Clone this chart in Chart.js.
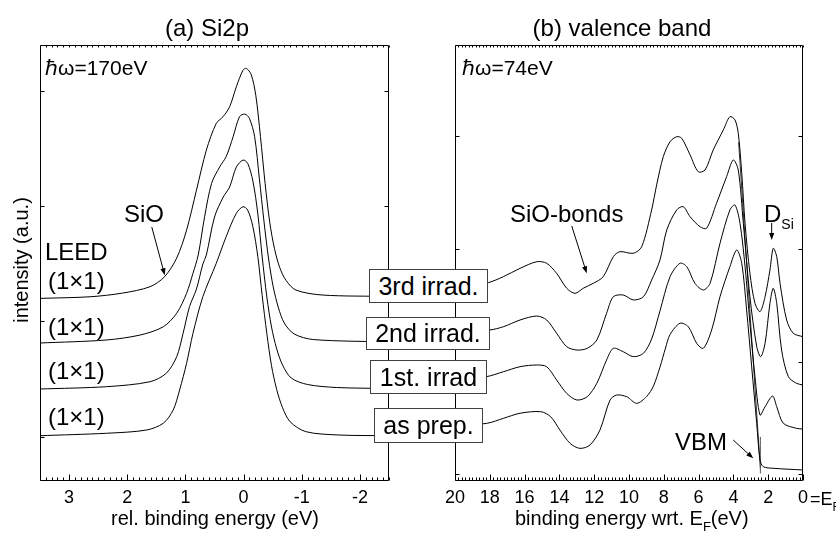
<!DOCTYPE html>
<html><head><meta charset="utf-8">
<script src="https://cdn.jsdelivr.net/npm/chart.js@4.4.0/dist/chart.umd.min.js"></script>
<style>
html,body{margin:0;padding:0;background:#fff;}
#wrap{position:relative;width:836px;height:535px;overflow:hidden;font-family:"Liberation Sans",Arial,sans-serif;background:#fff;}
#cA{position:absolute;left:0;top:0;width:420px;height:535px;}
#cB{position:absolute;left:420px;top:0;width:416px;height:535px;}
.box{position:absolute;background:#fff;border:1px solid #404040;box-sizing:border-box;font-size:25px;line-height:1;display:flex;align-items:center;justify-content:center;color:#000;white-space:nowrap;}
</style></head><body>
<div id="wrap">
<canvas id="cA" width="420" height="535"></canvas>
<canvas id="cB" width="416" height="535"></canvas>
<div class="box" style="left:369px;top:269px;width:119px;height:34px">3rd irrad.</div>
<div class="box" style="left:366px;top:317px;width:124px;height:33px">2nd irrad.</div>
<div class="box" style="left:370px;top:360px;width:117px;height:34px">1st. irrad</div>
<div class="box" style="left:374px;top:408px;width:109px;height:35px">as prep.</div>
</div>
<script>
// ---------- (a) Si2p core level: binding energy (eV, relative) and intensity ----------
const si3rdE = [3.5,2.64,2.08,1.61,1.36,1.15,0.98,0.81,0.64,0.47,0.355,0.24,0.125,0.01,-0.046,-0.13,-0.21,-0.29,-0.37,-0.45,-0.53,-0.62,-0.73,-0.9,-1.36,-2.5];
const si3rdI = [1.199,1.213,1.245,1.300,1.386,1.549,1.791,2.138,2.485,2.717,2.774,2.861,3.034,3.179,3.194,3.142,2.960,2.604,2.196,1.858,1.633,1.468,1.355,1.271,1.228,1.216];
const si2ndE = [3.5,2.36,1.78,1.38,1.15,0.98,0.87,0.78,0.67,0.55,0.41,0.30,0.18,0.07,-0.02,-0.10,-0.19,-0.27,-0.35,-0.43,-0.51,-0.6,-0.7,-0.87,-1.2,-2.5];
const si2ndI = [0.812,0.838,0.881,0.953,1.070,1.243,1.417,1.575,1.907,2.197,2.341,2.428,2.601,2.775,2.798,2.761,2.601,2.243,1.870,1.541,1.298,1.116,0.985,0.890,0.842,0.821];
const si1stE = [3.5,2.36,1.61,1.33,1.15,1.04,0.93,0.81,0.70,0.64,0.5,0.35,0.24,0.125,0.01,-0.07,-0.16,-0.245,-0.32,-0.40,-0.48,-0.57,-0.67,-0.82,-1.1,-1.6,-2.5];
const si1stI = [0.413,0.433,0.476,0.549,0.693,0.896,1.127,1.280,1.497,1.575,1.905,2.078,2.165,2.338,2.399,2.371,2.217,1.931,1.558,1.211,0.951,0.760,0.621,0.508,0.452,0.426,0.417];
const siPrepE = [3.5,2.36,1.67,1.38,1.21,1.10,0.98,0.87,0.70,0.47,0.30,0.125,0.01,-0.07,-0.16,-0.245,-0.32,-0.40,-0.48,-0.57,-0.67,-0.80,-1.07,-1.64,-2.5];
const siPrepI = [0.008,0.029,0.057,0.116,0.231,0.404,0.636,0.896,1.214,1.503,1.734,1.937,1.994,1.966,1.821,1.560,1.222,0.893,0.615,0.407,0.251,0.129,0.043,0.014,0.008];

// ---------- (b) valence band: binding energy wrt. E_F (eV) and intensity ----------
const vb3rdE = [20,18.09,17.22,16.26,15.30,14.73,14.16,13.58,13.10,12.63,12.05,11.48,10.90,10.52,9.75,9.27,8.70,8.41,8.03,7.64,7.26,6.97,6.49,6.02,5.63,5.16,4.58,4.20,3.91,3.72,3.52,3.33,3.05,2.76,2.47,2.18,1.90,1.71,1.51,1.32,0.94,0.56,0];
const vb3rdI = [1.627,1.700,1.754,1.828,1.887,1.873,1.784,1.651,1.606,1.651,1.695,1.754,1.932,1.976,1.962,2.020,2.347,2.570,2.820,2.954,2.998,2.984,2.836,2.687,2.702,2.880,3.058,3.176,3.147,3.028,2.673,2.228,1.784,1.517,1.443,1.576,1.813,2.006,1.932,1.695,1.369,1.251,1.220];
const vb2ndE = [20,18.0,17.22,16.26,15.30,14.73,14.16,13.58,13.0,12.4,11.85,11.29,10.90,10.33,9.75,9.17,8.70,8.22,7.83,7.26,6.88,6.49,5.92,5.54,4.97,4.39,4.01,3.72,3.43,3.05,2.66,2.43,2.18,1.90,1.71,1.51,1.23,0.84,0.37,0];
const vb2ndI = [1.253,1.280,1.309,1.369,1.404,1.369,1.251,1.132,1.102,1.117,1.191,1.428,1.576,1.591,1.547,1.576,1.724,1.902,2.169,2.347,2.376,2.287,2.198,2.184,2.406,2.643,2.791,2.702,2.228,1.576,1.132,1.043,1.162,1.517,1.651,1.517,1.102,0.865,0.806,0.791];
const vb1stE = [20,18.2,17.22,16.26,15.30,14.73,14.16,13.58,13.0,12.4,11.85,11.29,10.90,10.33,9.75,9.17,8.70,8.22,7.64,7.07,6.68,6.21,5.73,5.34,4.77,4.20,3.91,3.62,3.33,3.05,2.76,2.47,2.18,1.75,1.51,1.13,0.37,0];
const vb1stI = [0.836,0.865,0.909,0.954,0.969,0.954,0.836,0.717,0.658,0.687,0.806,1.013,1.117,1.087,1.043,1.073,1.200,1.450,1.754,1.873,1.843,1.695,1.636,1.695,2.051,2.347,2.391,2.228,1.843,1.340,0.865,0.524,0.598,0.693,0.598,0.451,0.406,0.400];
const vbPrepE = [20,18.15,17.22,16.26,15.07,14.5,13.97,13.39,12.82,12.24,11.67,11.09,10.71,10.13,9.56,8.98,8.60,8.22,7.90,7.64,7.07,6.59,6.11,5.73,5.25,4.77,4.20,3.81,3.52,3.24,2.95,2.66,2.47,2.28,1.71,0];
const vbPrepI = [0.427,0.451,0.495,0.540,0.554,0.509,0.391,0.273,0.228,0.258,0.391,0.658,0.702,0.687,0.628,0.690,0.780,0.950,1.120,1.240,1.340,1.309,1.162,1.117,1.280,1.576,1.843,1.991,1.873,1.458,0.954,0.451,0.124,0.065,0.051,0.036];
// VBM marker and leading-edge extrapolation line
const vbmE = [2.45,2.45];
const vbmI = [0.33,0.005];
const edgeE = [3.70,2.45];
const edgeI = [2.95,0.05];

// tick values
const siTicks = [3,2,1,0,-1,-2];
const vbTicks = [20,18,16,14,12,10,8,6,4,2,0];
const yTickVals = [0,1,2,3];

const FONT = '"Liberation Sans", Arial, sans-serif';
Chart.defaults.font.family = FONT;
Chart.defaults.color = '#000';

const pts = (E, I) => E.map((e, i) => ({x: e, y: I[i]}));
const ds = (E, I, col, w) => ({data: pts(E, I), borderColor: col || '#000', borderWidth: w || 1, pointRadius: 0, tension: 0.3, fill: false});

const deco = {
  id: 'deco',
  afterDatasetsDraw(chart, args, o) {
    const ctx = chart.ctx, a = chart.chartArea, xs = chart.scales.x, ys = chart.scales.y;
    ctx.save();
    ctx.strokeStyle = '#000'; ctx.lineWidth = 1;
    const L = Math.round(a.left) + 0.5, R = Math.round(a.right) - 0.5, T = Math.round(a.top) + 0.5, B = Math.round(a.bottom) - 0.5;
    ctx.beginPath();
    ctx.rect(L, T, R - L, B - T);
    const n = Math.round((xs.max - xs.min) / o.xMinor);
    for (let k = 0; k <= n; k++) {
      const v = xs.min + k * o.xMinor;
      const px = Math.round(xs.getPixelForValue(v)) + 0.5;
      const r = v / o.xMajor;
      const major = Math.abs(r - Math.round(r)) < 1e-6;
      ctx.moveTo(px, B); ctx.lineTo(px, B - (major ? 6 : 3));
      ctx.moveTo(px, T); ctx.lineTo(px, T + 2);
    }
    for (const v of o.yTicks) {
      const py = Math.round(ys.getPixelForValue(v)) + 0.5;
      ctx.moveTo(L, py); ctx.lineTo(L + 4, py);
      ctx.moveTo(R, py); ctx.lineTo(R - 4, py);
    }
    ctx.stroke();
    // arrows (data coordinates)
    ctx.fillStyle = '#000';
    for (const ar of o.arrows) {
      const x1 = xs.getPixelForValue(ar[0]), y1 = ys.getPixelForValue(ar[1]);
      const x2 = xs.getPixelForValue(ar[2]), y2 = ys.getPixelForValue(ar[3]);
      const ang = Math.atan2(y2 - y1, x2 - x1), hl = 7, hw = 2.6;
      ctx.beginPath(); ctx.moveTo(x1, y1); ctx.lineTo(x2 - Math.cos(ang) * hl * 0.8, y2 - Math.sin(ang) * hl * 0.8); ctx.stroke();
      ctx.beginPath();
      ctx.moveTo(x2, y2);
      ctx.lineTo(x2 - Math.cos(ang) * hl - Math.sin(ang) * hw, y2 - Math.sin(ang) * hl + Math.cos(ang) * hw);
      ctx.lineTo(x2 - Math.cos(ang) * hl + Math.sin(ang) * hw, y2 - Math.sin(ang) * hl - Math.cos(ang) * hw);
      ctx.closePath(); ctx.fill();
    }
    // texts (page pixel positions)
    ctx.textBaseline = 'alphabetic';
    for (const t of o.texts) {
      const runs = t.runs;
      let total = 0;
      for (const r of runs) { ctx.font = r[1] + 'px ' + FONT; total += ctx.measureText(r[0]).width; }
      let x = t.x - o.dx, y = t.y;
      ctx.save();
      if (t.rot) { ctx.translate(x, y); ctx.rotate(-Math.PI / 2); x = -total / 2; y = 0; }
      else if (t.center) { x -= total / 2; }
      ctx.textAlign = 'left';
      for (const r of runs) {
        ctx.font = r[1] + 'px ' + FONT;
        ctx.fillText(r[0], x, y + (r[2] || 0));
        x += ctx.measureText(r[0]).width;
      }
      ctx.restore();
    }
    ctx.restore();
  }
};

function makeChart(id, datasets, xmin, xmax, step, ticks, ymin, ymax, yw, padR, decoOpts) {
  return new Chart(document.getElementById(id), {
    type: 'line',
    data: {datasets},
    options: {
      responsive: false, animation: false, events: [],
      layout: {padding: {left: 0, top: 45, right: padR, bottom: 0}, autoPadding: false},
      plugins: {legend: {display: false}, tooltip: {enabled: false}, title: {display: false}, deco: decoOpts},
      scales: {
        x: {type: 'linear', reverse: true, min: xmin, max: xmax,
            grid: {display: false, drawTicks: false}, border: {display: false},
            ticks: {stepSize: step, autoSkip: false, maxRotation: 0, padding: 6, font: {size: 18}, color: '#000'},
            afterBuildTicks: s => { s.ticks = ticks.map(v => ({value: v})); },
            afterFit: s => { s.height = 54; }},
        y: {type: 'linear', min: ymin, max: ymax,
            grid: {display: false, drawTicks: false}, border: {display: false},
            ticks: {display: false},
            afterFit: s => { s.width = yw; }}
      }
    },
    plugins: [deco]
  });
}

makeChart('cA', [
  ds(si3rdE, si3rdI), ds(si2ndE, si2ndI), ds(si1stE, si1stI), ds(siPrepE, siPrepI)
], -2.5, 3.5, 1, siTicks, -0.385, 3.397, 40, 31, {
  dx: 0, xMinor: 0.1, xMajor: 1, yTicks: yTickVals,
  arrows: [[1.578, 1.818, 1.355, 1.40]],
  texts: [
    {runs: [['(a) Si2p', 24]], x: 207, y: 36, center: true},
    {runs: [['\u210F\u03C9=170eV', 21]], x: 45, y: 75},
    {runs: [['SiO', 24]], x: 124, y: 222},
    {runs: [['LEED', 24]], x: 45, y: 260},
    {runs: [['(1\u00D71)', 24]], x: 48, y: 289},
    {runs: [['(1\u00D71)', 24]], x: 48, y: 335},
    {runs: [['(1\u00D71)', 24]], x: 48, y: 379},
    {runs: [['(1\u00D71)', 24]], x: 48, y: 425},
    {runs: [['rel. binding energy (eV)', 20]], x: 215, y: 525, center: true},
    {runs: [['intensity (a.u.)', 20]], x: 28, y: 260, rot: true}
  ]
});

makeChart('cB', [
  ds(vb3rdE, vb3rdI), ds(vb2ndE, vb2ndI), ds(vb1stE, vb1stI), ds(vbPrepE, vbPrepI),
  ds(vbmE, vbmI, '#555'), ds(edgeE, edgeI, '#333')
], 0, 20, 2, vbTicks, -0.062, 3.813, 35, 33, {
  dx: 420, xMinor: 0.2, xMajor: 2, yTicks: yTickVals,
  arrows: [[13.29, 2.204, 12.43, 1.784], [1.80, 2.231, 1.80, 2.08], [4.01, 0.302, 2.86, 0.14]],
  texts: [
    {runs: [['(b) valence band', 24]], x: 622, y: 36, center: true},
    {runs: [['\u210F\u03C9=74eV', 21]], x: 462, y: 75},
    {runs: [['SiO-bonds', 24]], x: 510, y: 222},
    {runs: [['D', 24], ['Si', 14, 7]], x: 764, y: 222},
    {runs: [['VBM', 24]], x: 675, y: 450},
    {runs: [['binding energy wrt. E', 20], ['F', 13, 6], ['(eV)', 20]], x: 515, y: 525},
    {runs: [['=E', 18], ['F', 12, 6]], x: 810, y: 505}
  ]
});
</script>
</body></html>
